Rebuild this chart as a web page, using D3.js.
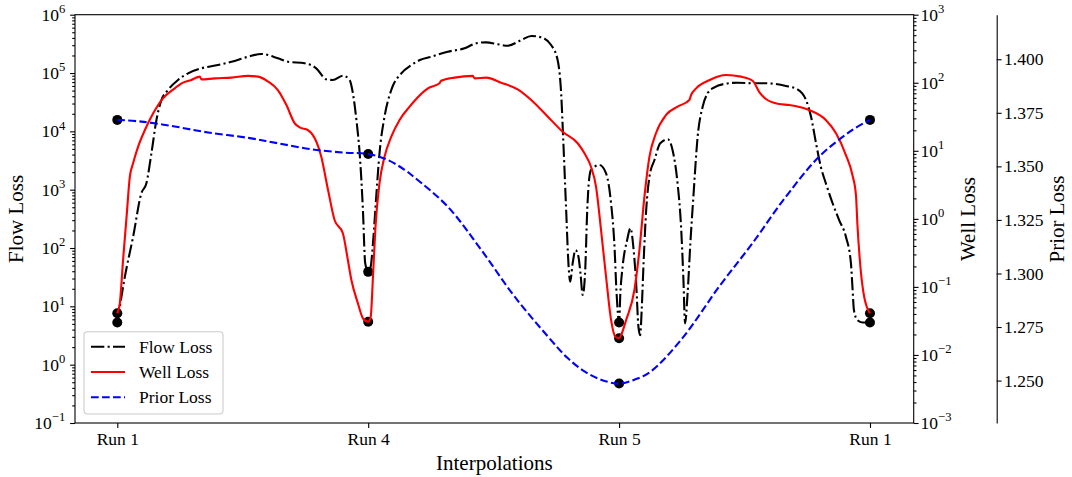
<!DOCTYPE html>
<html>
<head>
<meta charset="utf-8">
<script src="https://cdn.jsdelivr.net/npm/d3@7"></script>
<style>
  body { margin: 0; background: #fff; }
  svg text { font-family: "Liberation Serif", "DejaVu Serif", serif; fill: #000; }
</style>
</head>
<body>
<svg id="chart" width="1072" height="477"></svg>
<script>
// Interpolation path between runs: Run 1 -> Run 4 -> Run 5 -> Run 1
const interpTicks = [0, 1, 2, 3];
const tickLabels = ["Run 1", "Run 4", "Run 5", "Run 1"];

// Loss values at each run (endpoints of the interpolations)
const runFlow = [5.3, 39, 5.3, 5.3];
const runWell = [0.041, 0.0308, 0.0176, 0.041];
const runPrior = [1.3717, 1.3558, 1.2486, 1.3717];

// Flow loss along the interpolation
const flowT = [0, 0.030, 0.063, 0.096, 0.116, 0.136, 0.156, 0.176, 0.202, 0.242, 0.282, 0.335, 0.401, 0.455, 0.521,
  0.574, 0.640, 0.680, 0.747, 0.793, 0.833, 0.859, 0.899, 0.926, 0.939, 0.953, 0.966, 0.979, 0.988, 1.0,
  1.010, 1.019, 1.032, 1.045, 1.065, 1.092, 1.132, 1.172, 1.206, 1.251, 1.317, 1.384, 1.431, 1.470, 1.517,
  1.556, 1.610, 1.650, 1.689, 1.729, 1.755, 1.769, 1.778, 1.789, 1.798, 1.805, 1.815, 1.826, 1.838, 1.846,
  1.855, 1.865, 1.873, 1.879, 1.888, 1.922, 1.948, 1.968, 1.981, 1.990, 2.0, 2.005, 2.014, 2.032, 2.045,
  2.058, 2.068, 2.077, 2.084, 2.090, 2.098, 2.108, 2.121, 2.141, 2.164, 2.194, 2.213, 2.233, 2.247, 2.256,
  2.263, 2.273, 2.284, 2.297, 2.313, 2.333, 2.353, 2.380, 2.419, 2.472, 2.539, 2.585, 2.665, 2.711, 2.745,
  2.765, 2.785, 2.804, 2.824, 2.851, 2.877, 2.904, 2.924, 2.930, 2.936, 2.950, 2.970, 3.0];
const flowLoss = [5.3, 32, 156, 870, 1290, 4200, 15700, 34500, 51200, 76000, 98900, 120500, 137000, 156000, 190000,
  212000, 179000, 156000, 147000, 120500, 78000, 76000, 90000, 76000, 44900, 15700, 4200, 449, 55, 39,
  48, 120, 760, 4200, 17800, 51200, 98900, 137000, 167000, 190000, 232000, 265000, 324000, 336000, 311000,
  294000, 368000, 431000, 410000, 302000, 167000, 44900, 6240, 449, 55, 26.5, 55, 92, 71, 37,
  15.7, 42, 449, 1290, 2180, 2650, 1910, 585, 120, 16.7, 5.3, 16.7, 48, 137, 218,
  92, 24.8, 4.5, 3.2, 8.6, 62, 449, 1670, 3230, 6240, 7310, 4790, 1290, 232, 32,
  5.1, 16.7, 120, 870, 8090, 26500, 44900, 56900, 64900, 68300, 66700, 66700, 60000, 52600, 34500,
  17800, 6240, 2480, 1290, 585, 302, 156, 55, 21.7, 8.6, 5.8, 5.3, 5.3];

// Well loss along the interpolation
const wellT = [0, 0.010, 0.023, 0.037, 0.050, 0.063, 0.083, 0.110, 0.143, 0.182, 0.229, 0.256, 0.295, 0.329, 0.335,
  0.388, 0.455, 0.521, 0.561, 0.601, 0.640, 0.674, 0.707, 0.727, 0.760, 0.787, 0.813, 0.840, 0.866, 0.899,
  0.919, 0.933, 0.959, 0.979, 1.0, 1.010, 1.019, 1.029, 1.045, 1.065, 1.092, 1.125, 1.165, 1.185, 1.238,
  1.284, 1.291, 1.344, 1.417, 1.424, 1.470, 1.530, 1.596, 1.650, 1.716, 1.775, 1.835, 1.862, 1.888, 1.908,
  1.928, 1.948, 1.968, 1.985, 2.0, 2.008, 2.028, 2.061, 2.081, 2.101, 2.121, 2.147, 2.187, 2.233, 2.280,
  2.287, 2.307, 2.361, 2.426, 2.486, 2.532, 2.559, 2.585, 2.638, 2.678, 2.757, 2.824, 2.864, 2.904, 2.930,
  2.944, 2.950, 2.963, 2.977, 2.986, 3.0];
const wellLoss = [0.041, 0.0574, 0.248, 1.08, 4.16, 6.55, 11.5, 20.2, 35.6, 59.1, 82.8, 98.2, 110, 123, 112,
  116, 119, 126, 123, 104, 78.2, 47.1, 25.4, 22.1, 20.2, 15.3, 8.19, 2.65, 0.962, 0.614,
  0.248, 0.126, 0.0574, 0.0346, 0.0308, 0.0365, 0.141, 0.767, 3.33, 8.19, 16.1, 28.4, 44.5, 54.5, 82.8,
  98.2, 107, 119, 126, 116, 119, 100, 80.1, 55.8, 31.7, 19.1, 12.9, 9.19, 5.83, 2.97,
  0.686, 0.141, 0.0327, 0.0185, 0.0176, 0.0196, 0.0327, 0.090, 0.348, 2.12, 8.19, 18.1, 33.6, 44.5, 55.8,
  66.1, 82.8, 110, 130, 123, 107, 73.1, 57.7, 48.7, 47.1, 39.8, 28.4, 18.3, 8.67, 4.41,
  2.24, 0.813, 0.177, 0.0711, 0.0524, 0.041];

// Prior loss along the interpolation
const priorT = [0, 0.096, 0.229, 0.362, 0.528, 0.640, 0.773, 0.906, 1.0, 1.078, 1.145, 1.185, 1.317, 1.450, 1.583,
  1.716, 1.795, 1.862, 1.928, 2.0, 2.061, 2.127, 2.253, 2.399, 2.532, 2.665, 2.798, 2.930, 3.0];
const priorLoss = [1.3717, 1.3709, 1.3686, 1.3658, 1.3632, 1.3608, 1.3580, 1.3564, 1.3558, 1.3530, 1.3484, 1.3448,
  1.3312, 1.3111, 1.2893, 1.2706, 1.2605, 1.2543, 1.2504, 1.2486, 1.2504, 1.2543, 1.2699, 1.2939, 1.3142,
  1.3359, 1.3546, 1.3670, 1.3717];

// Axis ticks
const flowMajor = [1e-1, 1e0, 1e1, 1e2, 1e3, 1e4, 1e5, 1e6];
const wellMajor = [1e-3, 1e-2, 1e-1, 1e0, 1e1, 1e2, 1e3];
const priorTicks = [1.250, 1.275, 1.300, 1.325, 1.350, 1.375, 1.400];

const svg = d3.select("#chart");
const plotLeft = 75, plotRight = 913.7, plotTop = 14.7, plotBottom = 423;
const majorLen = 4.9, minorLen = 2.8, pad = 4.9;

const x = d3.scaleLinear().domain([-0.1686, 3.1742]).range([plotLeft, plotRight]);
const yFlow = d3.scaleLog().domain([1e-1, 1e6]).range([plotBottom, plotTop]);
const yWell = d3.scaleLog().domain([1e-3, 1e3]).range([plotBottom, plotTop]);
const yPrior = d3.scaleLinear().domain([1.2302, 1.4208]).range([plotBottom, plotTop]);

function minorsFor(domain) {
  const out = [];
  const lo = Math.round(Math.log10(domain[0])), hi = Math.round(Math.log10(domain[1]));
  for (let e = lo; e < hi; e++) for (let k = 2; k <= 9; k++) out.push(k * Math.pow(10, e));
  return out;
}

function powLabel(d) {
  const t = d3.select(this);
  const e = Math.round(Math.log10(d));
  t.text(null);
  t.append("tspan").text("10");
  t.append("tspan").attr("dy", "-0.62em").attr("font-size", "0.72em")
    .text(e < 0 ? "\u2212" + (-e) : String(e));
}

function styleAxis(g) {
  g.selectAll("line").attr("stroke", "#000").attr("stroke-width", 1.1);
  g.selectAll("path.domain").attr("stroke", "#000").attr("stroke-width", 1.1);
  g.selectAll("text").attr("font-size", 17.5).attr("font-family", null);
}

// Flow loss axis (left)
svg.append("g").attr("transform", `translate(${plotLeft},0)`)
  .call(d3.axisLeft(yFlow).tickValues(minorsFor(yFlow.domain())).tickSize(minorLen).tickFormat(""))
  .call(g => g.select(".domain").remove()).call(styleAxis);
svg.append("g").attr("transform", `translate(${plotLeft},0)`)
  .call(d3.axisLeft(yFlow).tickValues(flowMajor).tickSize(majorLen).tickPadding(pad).tickSizeOuter(0))
  .call(g => g.select(".domain").remove()).call(styleAxis)
  .call(g => g.selectAll(".tick text").each(powLabel));

// Well loss axis (right)
svg.append("g").attr("transform", `translate(${plotRight},0)`)
  .call(d3.axisRight(yWell).tickValues(minorsFor(yWell.domain())).tickSize(minorLen).tickFormat(""))
  .call(g => g.select(".domain").remove()).call(styleAxis);
svg.append("g").attr("transform", `translate(${plotRight},0)`)
  .call(d3.axisRight(yWell).tickValues(wellMajor).tickSize(majorLen).tickPadding(2).tickSizeOuter(0))
  .call(g => g.select(".domain").remove()).call(styleAxis)
  .call(g => g.selectAll(".tick text").each(powLabel));

// Prior loss axis (offset spine)
svg.append("g").attr("transform", "translate(996.7,0)")
  .call(d3.axisRight(yPrior).tickValues(priorTicks).tickSize(majorLen).tickPadding(2.5).tickSizeOuter(0)
    .tickFormat(d3.format(".3f")))
  .call(styleAxis);

// Interpolation axis (bottom)
svg.append("g").attr("transform", `translate(0,${plotBottom})`)
  .call(d3.axisBottom(x).tickValues(interpTicks).tickSize(majorLen).tickPadding(pad).tickSizeOuter(0)
    .tickFormat((d, i) => tickLabels[i]))
  .call(g => g.select(".domain").remove()).call(styleAxis);

// Plot frame
svg.append("rect").attr("x", plotLeft).attr("y", plotTop)
  .attr("width", plotRight - plotLeft).attr("height", plotBottom - plotTop)
  .attr("fill", "none").attr("stroke", "#000").attr("stroke-width", 1.1);

// Axis titles
svg.append("text").attr("x", (plotLeft + plotRight) / 2).attr("y", 470).attr("text-anchor", "middle")
  .attr("font-size", 21).text("Interpolations");
svg.append("text").attr("transform", "translate(23,219) rotate(-90)").attr("text-anchor", "middle")
  .attr("font-size", 21).text("Flow Loss");
svg.append("text").attr("transform", "translate(975,219) rotate(-90)").attr("text-anchor", "middle")
  .attr("font-size", 21).text("Well Loss");
svg.append("text").attr("transform", "translate(1064,219) rotate(-90)").attr("text-anchor", "middle")
  .attr("font-size", 21).text("Prior Loss");

const plot = svg.append("g");

function drawSeries(ts, vals, runs, yScale, color, dash, curve) {
  plot.append("g").selectAll("circle").data(runs).join("circle")
    .attr("cx", (d, i) => x(interpTicks[i])).attr("cy", d => yScale(d)).attr("r", 5).attr("fill", "#000");
  const line = d3.line().x((d, i) => x(ts[i])).y(d => yScale(d)).curve(curve);
  plot.append("path").datum(vals).attr("d", line)
    .attr("fill", "none").attr("stroke", color).attr("stroke-width", 2.1)
    .attr("stroke-dasharray", dash).attr("stroke-linejoin", "round");
}

drawSeries(flowT, flowLoss, runFlow, yFlow, "#000000", "13.3,3.3,2.1,3.3", d3.curveMonotoneX);
drawSeries(wellT, wellLoss, runWell, yWell, "#ff0000", null, d3.curveMonotoneX);
drawSeries(priorT, priorLoss, runPrior, yPrior, "#0000ff", "7.7,3.3", d3.curveCatmullRom.alpha(0.5));

// Legend
const legendItems = [
  { name: "Flow Loss", color: "#000000", dash: "13.3,3.3,2.1,3.3" },
  { name: "Well Loss", color: "#ff0000", dash: null },
  { name: "Prior Loss", color: "#0000ff", dash: "7.7,3.3" }
];
const legend = svg.append("g");
legend.append("rect").attr("x", 84).attr("y", 331.7).attr("width", 139).attr("height", 82.3)
  .attr("rx", 3.5).attr("fill", "#fff").attr("fill-opacity", 0.8)
  .attr("stroke", "#cccccc").attr("stroke-width", 1.1);
legendItems.forEach((it, i) => {
  const cy = 346.7 + i * 25.3;
  legend.append("line").attr("x1", 91).attr("x2", 125).attr("y1", cy).attr("y2", cy)
    .attr("stroke", it.color).attr("stroke-width", 2.1).attr("stroke-dasharray", it.dash);
  legend.append("text").attr("x", 139).attr("y", cy + 6).attr("font-size", 17.5).text(it.name);
});
</script>
</body>
</html>
